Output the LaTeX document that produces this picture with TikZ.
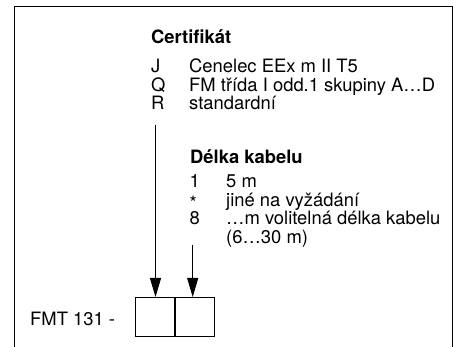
\documentclass[tikz,border=0pt]{standalone}
\usepackage{fontspec}
\setmainfont{TeX Gyre Heros}
\usetikzlibrary{arrows.meta,positioning}

\begin{document}
\begin{tikzpicture}[x=1pt,y=-1pt,>={Triangle[length=19pt,width=11pt]},
	txt/.style={anchor=base west,inner sep=0pt,font=\fontsize{18.4}{22}\selectfont},
	head/.style={txt,font=\fontsize{18.4}{22}\selectfont\bfseries},
	cell/.style={draw,line width=1pt,minimum size=39pt,inner sep=0pt},
	pointer/.style={line width=1pt,->}]
	
	\useasboundingbox (0,0) rectangle (453,347);
	
	% Frame (open at the bottom)
	\draw[line width=1pt] (14,347) -- (14,7) -- (452,7) -- (452,347);
	
	% Certificate
	\node[head] (certhead) at (151,43.5) {Certifikát};
	\node[txt] (certJ) at (151,72.3) {J};
	\node[txt] (certJtxt) at (189,72.3) {Cenelec EEx m II T5};
	\node[txt] (certQ) at (151,91.2) {Q};
	\node[txt] (certQtxt) at (189,91.2) {FM třída I odd.1 skupiny A…D};
	\node[txt] (certR) at (151,110) {R};
	\node[txt] (certRtxt) at (189,110) {standardní};
	
	% Cable length
	\node[head] (cablehead) at (190,163.3) {Délka kabelu};
	\node[txt] (cable1) at (189.5,187.3) {1};
	\node[txt] (cable1txt) at (226,187.3) {5 m};
	\node[txt] (cablestar) at (189.5,206.2) {\raisebox{-3pt}{*}};
	\node[txt] (cablestartxt) at (226,206.2) {jiné na vyžádání};
	\node[txt] (cable8) at (189.5,225) {8};
	\node[txt] (cable8txt) at (226,225) {…m volitelná délka kabelu};
	\node[txt] (cable8range) at (226,243.8) {(6…30 m)};
	
	% Order code boxes
	\node[txt] (order) at (30,326) {FMT 131 -};
	\node[cell] (cellA) at (154.5,317) {};
	\node[cell,right=0pt of cellA] (cellB) {};
	
	% Arrows into the boxes
	\coordinate (certtail) at (155.5,125);
	\coordinate (cabletail) at (192.7,245);
	\draw[pointer] (certtail) -- (certtail |- cellA.north);
	\draw[pointer] (cabletail) -- (cabletail |- cellB.north);
	
\end{tikzpicture}
\end{document}
